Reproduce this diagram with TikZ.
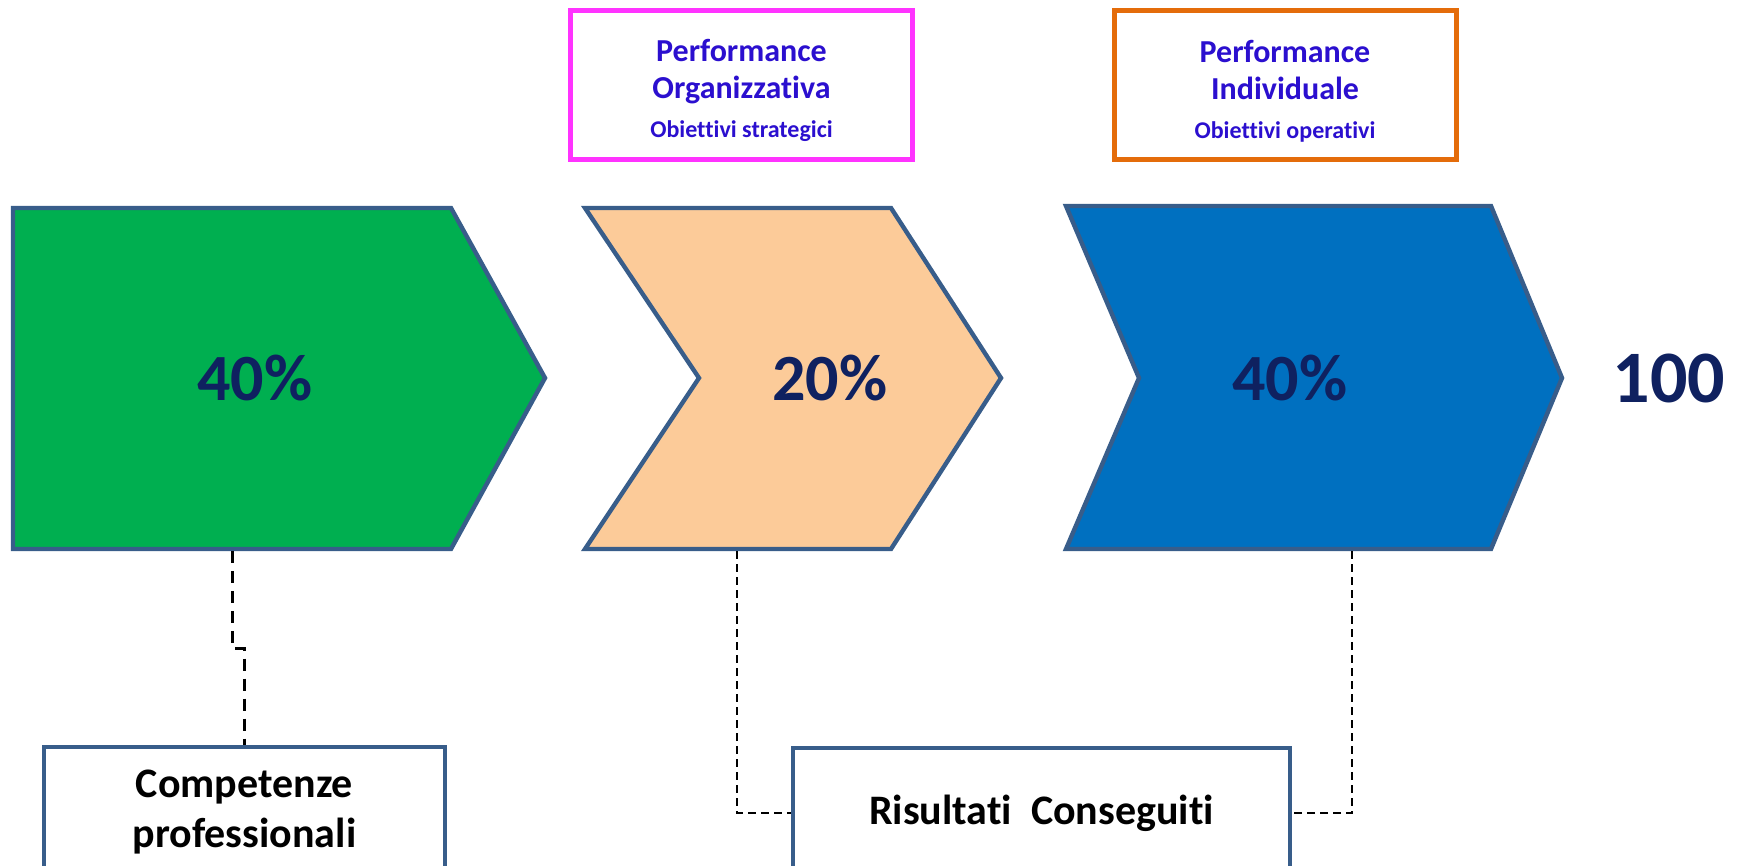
\documentclass[tikz,border=0pt]{standalone}
\usepackage{fontspec}
\setmainfont{Carlito}[Ligatures=NoCommon]
\usetikzlibrary{positioning}
\definecolor{edgeblue}{HTML}{385D8A}
\definecolor{chevgreen}{HTML}{00AF50}
\definecolor{chevpeach}{HTML}{FCCB99}
\definecolor{chevblue}{HTML}{0070C0}
\definecolor{numblue}{HTML}{0F2160}
\definecolor{titleblue}{HTML}{2B0FCF}
\definecolor{goalpink}{HTML}{FF33FF}
\definecolor{goalorange}{HTML}{E46C0A}

\begin{document}
\begin{tikzpicture}[x=0.5pt,y=-0.5pt,
    every node/.style={font=\bfseries}]
  \tikzstyle{chev}=[draw=edgeblue,line width=2.2pt,line join=miter]
  \tikzstyle{perc}=[text=numblue,font=\bfseries\fontsize{33}{38}\selectfont]
  \tikzstyle{goal}=[draw,line width=2.5pt,fill=white,align=center,text=titleblue,
                    minimum width=171pt,minimum height=74.5pt,inner sep=0pt,
                    font=\bfseries\fontsize{16}{18.5}\selectfont]
  \tikzstyle{result}=[draw=edgeblue,line width=2pt,fill=white,align=center,
                      minimum height=65pt,inner sep=0pt,
                      font=\bfseries\fontsize{21}{25}\selectfont]
  \tikzstyle{link}=[dashed,black]
  \useasboundingbox (0,0) rectangle (1739,866);

  % Chevrons
  \draw[chev,fill=chevgreen] (13,208) -- (451,208) -- (545,378) -- (451,549)
                             -- (13,549) -- cycle;
  \draw[chev,fill=chevpeach] (585,208) -- (891,208) -- (1001,378) -- (891,549)
                             -- (585,549) -- (699,378) -- cycle;
  \draw[chev,fill=chevblue]  (1066,206) -- (1491,206) -- (1562,378) -- (1491,549)
                             -- (1066,549) -- (1139,378) -- cycle;
  \coordinate (g) at (232,551);
  \coordinate (o) at (737,551);
  \coordinate (i) at (1352,551);

  % Weights
  \node[perc] (wg) at (255,378) {40\%};
  \node[perc] (wo) at (830,378) {20\%};
  \node[perc] (wi) at (1290,378) {40\%};
  \node[perc, font=\bfseries\fontsize{37}{42}\selectfont] (tot) at (1669,378) {100};

  % Goals
  \node[goal, draw=goalpink] (org) at (741.5,85)
       {\rule{0pt}{17pt}Performance\\Organizzativa\\[1pt]
        {\fontsize{12}{14}\selectfont Obiettivi strategici}};
  \node[goal, draw=goalorange] (ind) at (1285,85)
       {\rule{0pt}{17pt}Performance\\Individuale\\[1pt]
        {\fontsize{12}{14}\selectfont Obiettivi operativi}};

  % Results
  \node[result, minimum width=200.5pt] (comp) at (244.5,812)
       {Competenze\\professionali};
  \node[result, minimum width=248.5pt] (ris) at (1041.5,813)
       {Risultati\ \ Conseguiti};

  % Links
  \draw[link, line width=1.5pt, dash pattern=on 6pt off 4pt]
       (g) -- ++(0,97) -| (comp.north);
  \draw[link, line width=0.75pt, dash pattern=on 4pt off 2.5pt] (o) |- (ris.west);
  \draw[link, line width=0.75pt, dash pattern=on 4pt off 2.5pt] (i) |- (ris.east);
\end{tikzpicture}
\end{document}
